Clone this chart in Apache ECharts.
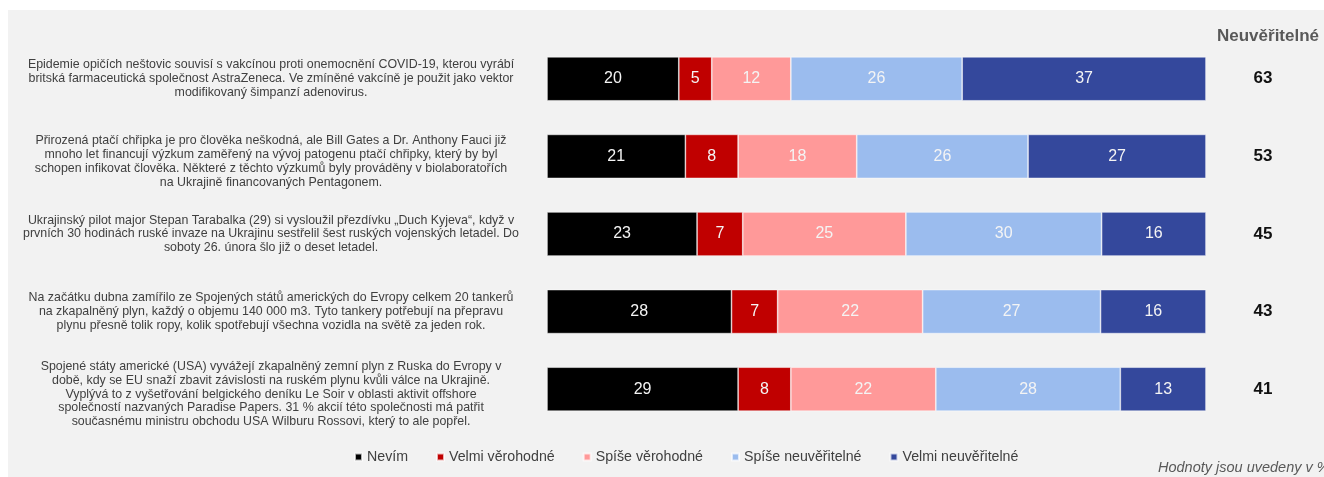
<!DOCTYPE html>
<html>
<head>
<meta charset="utf-8">
<script src="https://cdn.jsdelivr.net/npm/echarts@6/dist/echarts.min.js"></script>
<style>
    html, body { margin: 0; padding: 0; background: #fff; }
    #chart { width: 1324px; height: 477px; }
</style>
</head>
<body>
<div id="chart"></div>
<script>
'use strict';

// statements (line breaks as in the original)
const statements = [
    'Epidemie opičích neštovic souvisí s vakcínou proti onemocnění COVID-19, kterou vyrábí\nbritská farmaceutická společnost AstraZeneca. Ve zmíněné vakcíně je použit jako vektor\nmodifikovaný šimpanzí adenovirus.',
    'Přirozená ptačí chřipka je pro člověka neškodná, ale Bill Gates a Dr. Anthony Fauci již\nmnoho let financují výzkum zaměřený na vývoj patogenu ptačí chřipky, který by byl\nschopen infikovat člověka. Některé z těchto výzkumů byly prováděny v biolaboratořích\nna Ukrajině financovaných Pentagonem.',
    'Ukrajinský pilot major Stepan Tarabalka (29) si vysloužil přezdívku „Duch Kyjeva“, když v\nprvních 30 hodinách ruské invaze na Ukrajinu sestřelil šest ruských vojenských letadel. Do\nsoboty 26. února šlo již o deset letadel.',
    'Na začátku dubna zamířilo ze Spojených států amerických do Evropy celkem 20 tankerů\nna zkapalněný plyn, každý o objemu 140 000 m3. Tyto tankery potřebují na přepravu\nplynu přesně tolik ropy, kolik spotřebují všechna vozidla na světě za jeden rok.',
    'Spojené státy americké (USA) vyvážejí zkapalněný zemní plyn z Ruska do Evropy v\ndobě, kdy se EU snaží zbavit závislosti na ruském plynu kvůli válce na Ukrajině.\nVyplývá to z vyšetřování belgického deníku Le Soir v oblasti aktivit offshore\nspolečností nazvaných Paradise Papers. 31 % akcií této společnosti má patřit\nsoučasnému ministru obchodu USA Wilburu Rossovi, který to ale popřel.'
];

const seriesNames = ['Nevím', 'Velmi věrohodné', 'Spíše věrohodné', 'Spíše neuvěřitelné', 'Velmi neuvěřitelné'];
const seriesColors = ['#000000', '#c00000', '#ff9999', '#9bbcee', '#34489c'];

const nevim = [20, 21, 23, 28, 29];
const velmiVerohodne = [5, 8, 7, 7, 8];
const spiseVerohodne = [12, 18, 25, 22, 22];
const spiseNeuveritelne = [26, 26, 30, 27, 28];
const velmiNeuveritelne = [37, 27, 16, 16, 13];

// "Neuvěřitelné" column on the right
const neuveritelne = [63, 53, 45, 43, 41];

const FONT = '"Liberation Sans", Arial, sans-serif';

const allValues = [nevim, velmiVerohodne, spiseVerohodne, spiseNeuveritelne, velmiNeuveritelne];

// 100% stacked like in excel -> share of row total
const rowTotals = statements.map((s, i) => allValues.reduce((a, arr) => a + arr[i], 0));

const series = allValues.map((arr, k) => ({
    name: seriesNames[k],
    type: 'bar',
    stack: 'all',
    barWidth: 44,
    itemStyle: { color: seriesColors[k], borderColor: 'rgba(255,255,255,0.7)', borderWidth: 0.7 },
    label: {
        show: true,
        position: 'inside',
        color: '#f4f4f4',
        fontFamily: FONT,
        fontSize: 16,
        formatter: p => p.data.raw
    },
    data: arr.map((v, i) => ({ value: v * 100 / rowTotals[i], raw: v }))
}));

const chart = echarts.init(document.getElementById('chart'), null, { renderer: 'canvas' });

chart.setOption({
    animation: false,
    color: seriesColors,
    graphic: [
        {
            type: 'rect', z: -10, silent: true,
            shape: { x: 8, y: 10, width: 1316, height: 467 },
            style: { fill: '#f2f2f2' }
        },
        {
            type: 'text', left: 1217, top: 28,
            style: { text: 'Neuvěřitelné', fill: '#595959', font: 'bold 17px ' + FONT }
        },
        {
            type: 'text', left: 1158, top: 460,
            style: { text: 'Hodnoty jsou uvedeny v %', fill: '#595959', font: 'italic 14.5px ' + FONT }
        }
    ],
    legend: {
        left: 349,
        top: 445,
        icon: 'rect',
        itemWidth: 7,
        itemHeight: 7,
        itemGap: 28,
        textStyle: { color: '#404040', fontFamily: FONT, fontSize: 14.2 },
        data: seriesNames
    },
    grid: { left: 547, right: 118, top: 40, bottom: 49, containLabel: false, outerBoundsMode: 'none' },
    xAxis: {
        type: 'value', min: 0, max: 100,
        show: false
    },
    yAxis: [
        {
            type: 'category',
            inverse: true,
            data: statements,
            axisLine: { show: false },
            axisTick: { show: false },
            axisLabel: {
                margin: 276,
                align: 'center',
                color: '#404040',
                fontFamily: FONT,
                fontSize: 12.4,
                lineHeight: 13.8,
                // long labels (4+ lines) sit a bit lower in the original
                formatter: v => v.split('\n').length > 3 ? '{pad|}\n' + v : v,
                rich: { pad: { height: 10, lineHeight: 10, fontSize: 1 } }
            }
        },
        {
            type: 'category',
            inverse: true,
            position: 'right',
            data: neuveritelne.map(String),
            axisLine: { show: false },
            axisTick: { show: false },
            axisLabel: {
                margin: 57,
                align: 'center',
                padding: [6, 0, 0, 0],
                color: '#111',
                fontFamily: FONT,
                fontWeight: 'bold',
                fontSize: 17
            }
        }
    ],
    series: series
});
</script>
</body>
</html>
